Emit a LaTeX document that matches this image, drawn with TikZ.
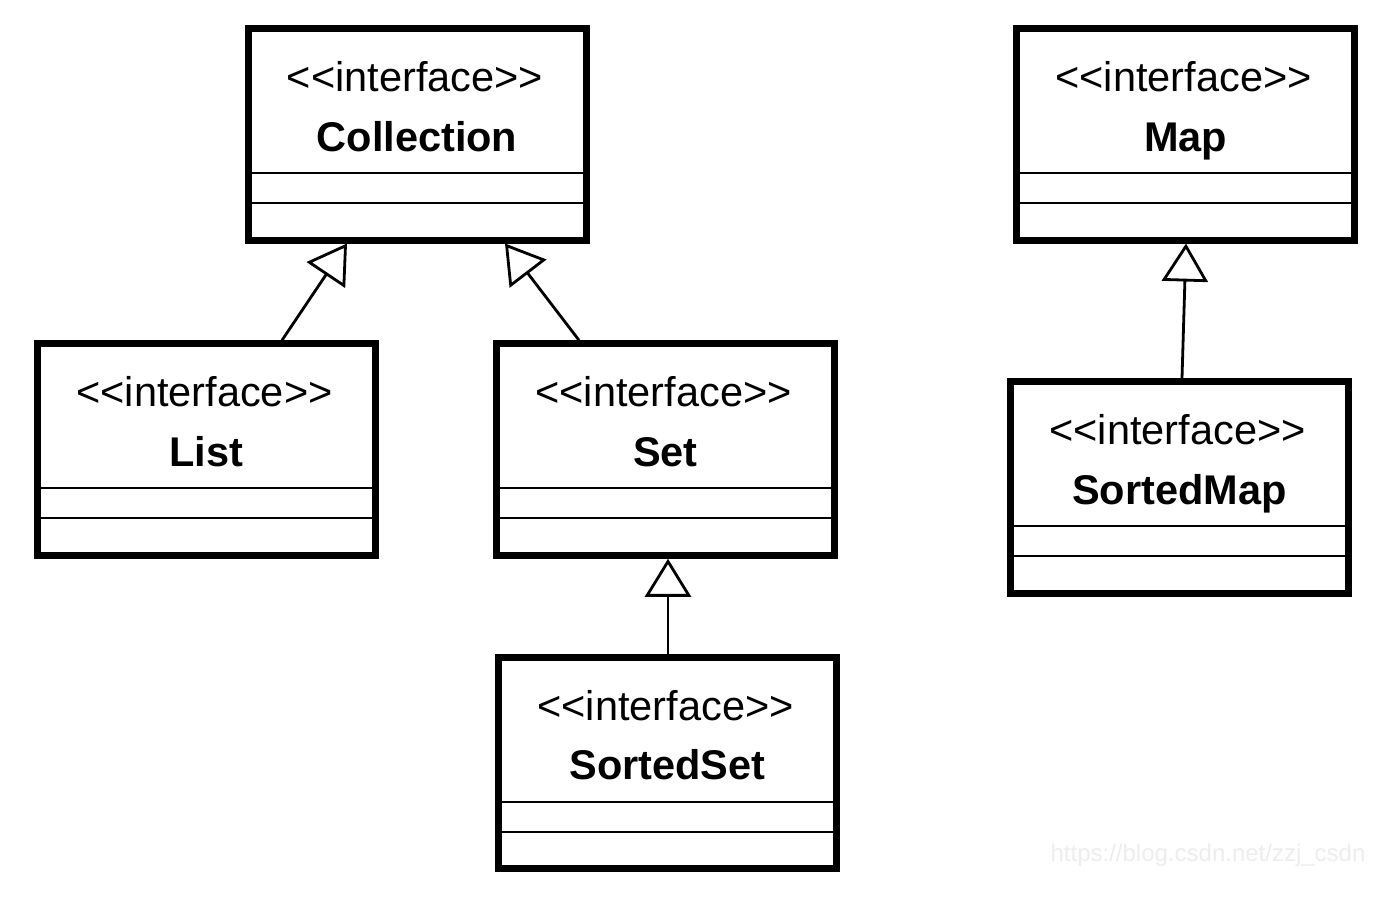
\documentclass[tikz,border=0pt]{standalone}
\usepackage{fontspec}
\setmainfont{Liberation Sans}
\usetikzlibrary{arrows.meta,calc}
\tikzset{
  umlbox/.style={draw,line width=7pt,minimum width=338pt,minimum height=211.5pt,inner sep=0pt,outer sep=3.5pt},
  sepline/.style={line width=2.2pt},
  stereo/.style={anchor=base,inner sep=0pt,font=\fontsize{41.5}{48}\selectfont},
  cname/.style={anchor=base,inner sep=0pt,font=\fontsize{41.5}{48}\selectfont\bfseries},
  inherit/.style={line width=2.8pt,-{Triangle[open,length=38pt,width=46pt,line width=2.8pt]}},
  wmark/.style={anchor=base,inner sep=0pt,text=black!7,font=\fontsize{24}{28}\selectfont}
}
\newcommand\umlbox[3]{%
  \node[umlbox] (#1) at (#2) {};
  \draw[sepline] ($(#1.south west)+(7,-70.5)$) -- ($(#1.south east)+(-7,-70.5)$);
  \draw[sepline] ($(#1.south west)+(7,-40.5)$) -- ($(#1.south east)+(-7,-40.5)$);
  \node[stereo] (#1-st) at ($(#1.north)+(-2,66.5)$) {{<}{<}interface{>}{>}};
  \node[cname] (#1-nm) at ($(#1.north)+(0,126)$) {#3};
}
\begin{document}
\begin{tikzpicture}[x=1pt,y=-1pt]
\useasboundingbox (0,0) rectangle (1400,915);
\fill[white] (0,0) rectangle (1400,915);
\umlbox{coll}{417,134.25}{Collection}
\umlbox{map}{1185.5,134.25}{Map}
\umlbox{list}{206.5,449.5}{List}
\umlbox{set}{665.5,449.5}{Set}
\umlbox{sset}{667.5,763}{SortedSet}
\umlbox{smap}{1179.5,487.5}{SortedMap}
\draw[inherit] ($(list.north)+(75.5,0)$) -- ($(coll.south)+(-70,0)$);
\draw[inherit] ($(set.north)+(-86.5,0)$) -- ($(coll.south)+(88,0)$);
\draw[inherit] ($(sset.north)+(0.5,0)$) -- ($(set.south)+(2.5,0)$);
\draw[inherit] ($(smap.north)+(2.5,0)$) -- ($(map.south)+(0.5,0)$);
\node[wmark] (wm) at (1208,861) {https://blog.csdn.net/zzj\_csdn};
\end{tikzpicture}
\end{document}
